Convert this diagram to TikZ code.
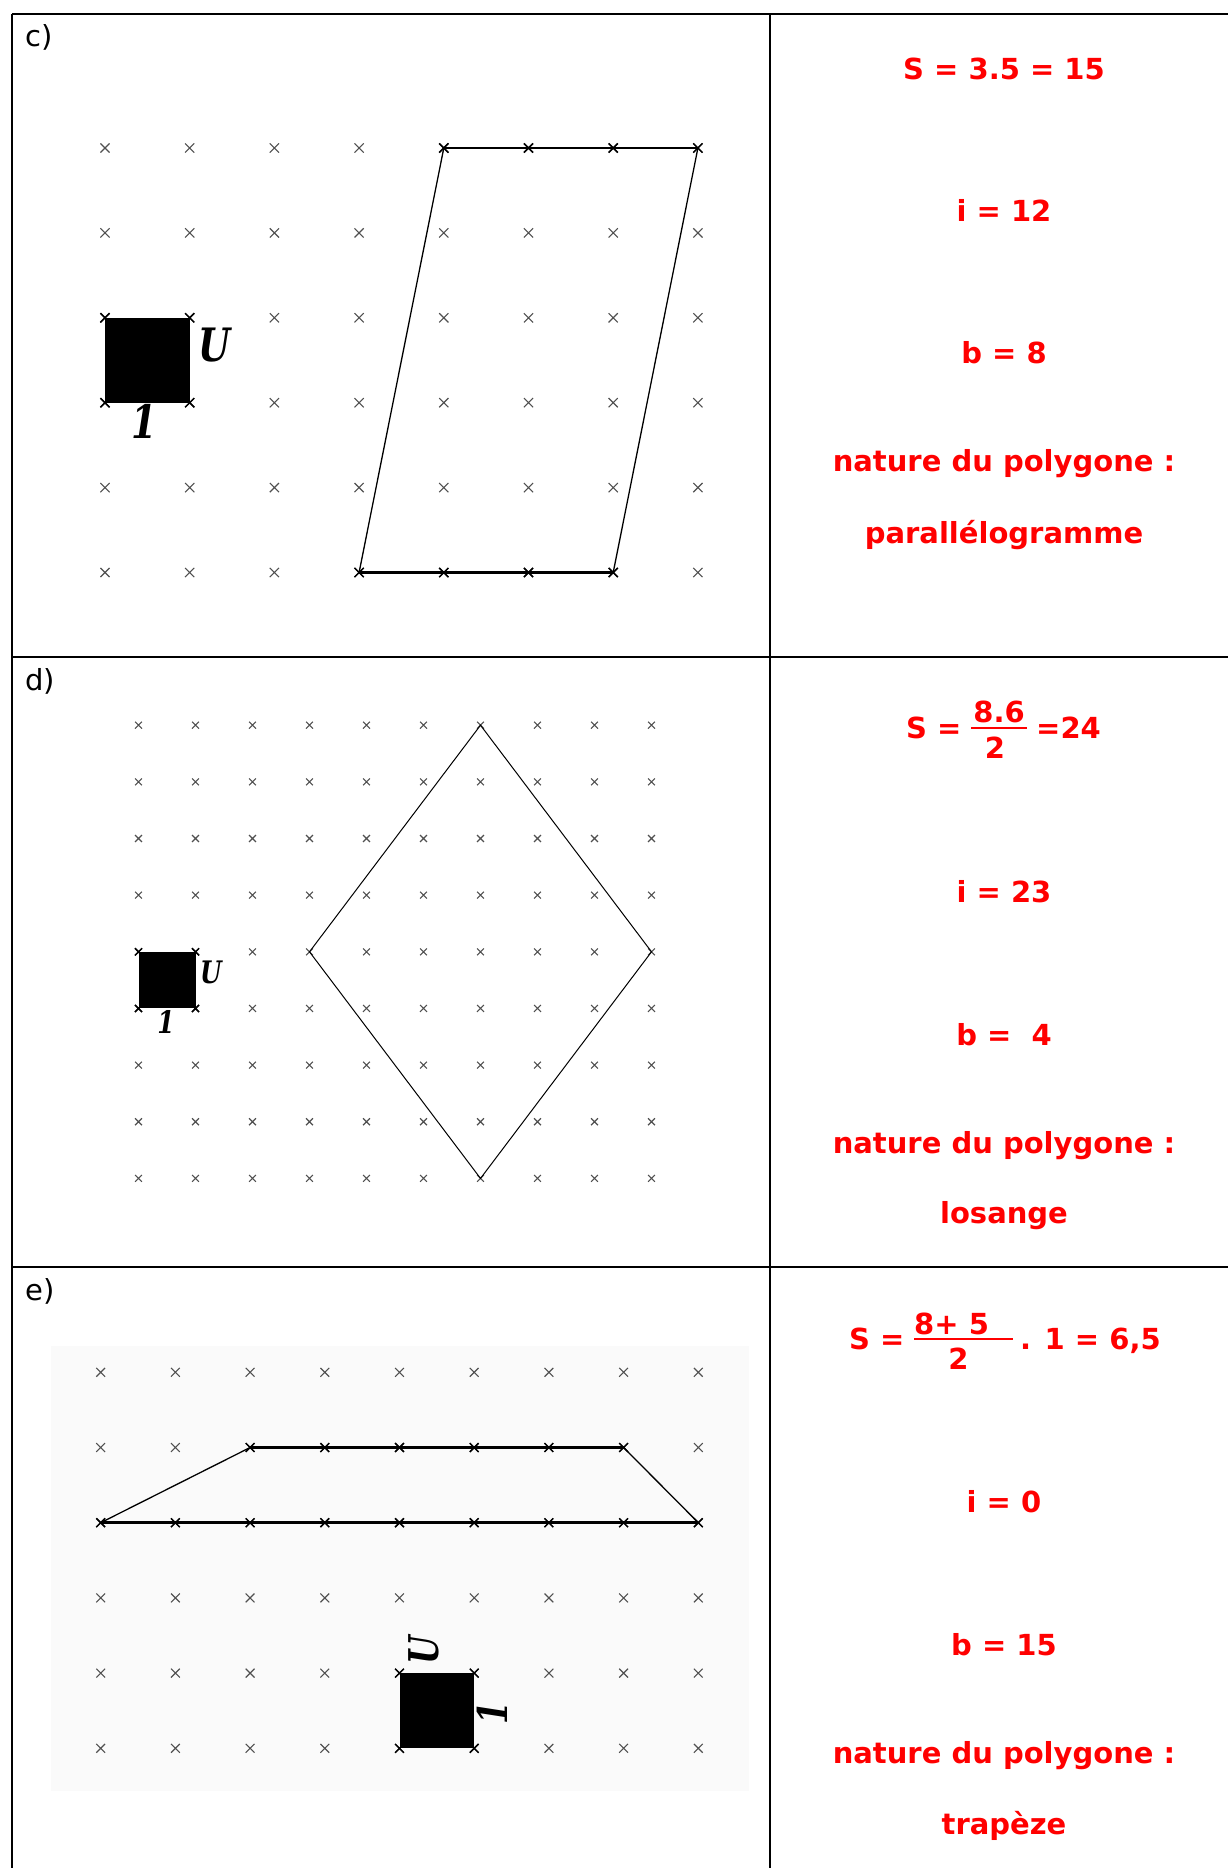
\documentclass[tikz,border=0pt]{standalone}
\usepackage{fontspec}
\usepackage{graphicx}
\newfontfamily\vsans{DejaVu Sans}
\newfontfamily\userif{DejaVu Serif}
\definecolor{ansred}{RGB}{255,0,0}
\definecolor{xgray}{RGB}{80,80,80}
\definecolor{bgpanel}{RGB}{250,250,250}
\tikzset{
  xm/.style={draw=xgray, line width=1.1pt},
  xmk/.style={draw=black, line width=1.5pt},
  tbl/.style={draw=black, line width=2pt},
  thickedge/.style={draw=black, line width=2.6pt},
  thinedge/.style={draw=black, line width=1.3pt},
  rhombedge/.style={draw=black, line width=1pt},
  ans/.style={text=ansred, font=\vsans\bfseries\fontsize{29}{34}\selectfont, inner sep=0pt, anchor=base},
  answ/.style={ans, anchor=base west},
  fracbar/.style={draw=ansred, line width=2.2pt},
  plbl/.style={font=\vsans\fontsize{29}{34}\selectfont, inner sep=0pt, anchor=base west},
  ulbl/.style={font=\userif\bfseries\itshape\fontsize{#1}{#1}\selectfont, inner sep=0pt},
  usq/.style={fill=black}
}
\newcommand\gx[3]{\draw[xm] (#1,#2) ++(-#3,-#3) -- ++(2*#3,2*#3) ++(0,-2*#3) -- ++(-2*#3,2*#3);}
\newcommand\gk[3]{\draw[xmk] (#1,#2) ++(-#3,-#3) -- ++(2*#3,2*#3) ++(0,-2*#3) -- ++(-2*#3,2*#3);}
\begin{document}
\begin{tikzpicture}[x=1pt,y=-1pt]
\path[use as bounding box] (0,0) rectangle (1228,1868);
\clip (0,0) rectangle (1228,1868);
\fill[white] (0,0) rectangle (1228,1868);

% ---------------- table ----------------
\draw[tbl] (12,14) -- (1240,14);
\draw[tbl] (12,657) -- (1240,657);
\draw[tbl] (12,1267) -- (1240,1267);
\draw[tbl] (12,14) -- (12,1880);
\draw[tbl] (770,14) -- (770,1880);

\node[plbl] (lc) at (25,47) {c)};
\node[plbl] (ld) at (25,690) {d)};
\node[plbl] (le) at (25,1300) {e)};

% ---------------- panel c ----------------
\foreach \i in {0,...,7}{\foreach \j in {0,...,5}{\gx{105+\i*84.7}{148+\j*84.9}{4.6}}}
\coordinate (cA) at (105+4*84.7,148);
\coordinate (cB) at (105+7*84.7,148);
\coordinate (cC) at (105+6*84.7,148+5*84.9);
\coordinate (cD) at (105+3*84.7,148+5*84.9);
\draw[thickedge] (cA) -- (cB);
\draw[thickedge] (cD) -- (cC);
\draw[thinedge] (cB) -- (cC);
\draw[thinedge] (cD) -- (cA);
\foreach \i in {4,...,7}{\gk{105+\i*84.7}{148}{4.6}}
\foreach \i in {3,...,6}{\gk{105+\i*84.7}{148+5*84.9}{4.6}}
\fill[usq] (105,148+2*84.9) rectangle (105+84.7,148+3*84.9);
\foreach \i in {0,1}{\foreach \j in {2,3}{\gk{105+\i*84.7}{148+\j*84.9}{4.6}}}
\node[ulbl=46] (cU) at (215,345) {\scalebox{0.8}[1]{U}};
\node[ulbl=46] (c1) at (144,421) {\scalebox{0.8}[1]{1}};

\node[ans] (cS) at (1004,79) {S = 3.5 = 15};
\node[ans] (ci) at (1004,221) {i = 12};
\node[ans] (cb) at (1004,363) {b = 8};
\node[ans] (cn) at (1004,471) {nature du polygone :};
\node[ans] (cp) at (1004,543) {parallélogramme};

% ---------------- panel d ----------------
\foreach \i in {0,...,9}{\foreach \j in {0,...,8}{\gx{138.5+\i*57}{725.2+\j*56.65}{3.4}}}
\coordinate (dT) at (138.5+6*57,725.2);
\coordinate (dR) at (138.5+9*57,725.2+4*56.65);
\coordinate (dB) at (138.5+6*57,725.2+8*56.65);
\coordinate (dL) at (138.5+3*57,725.2+4*56.65);
\draw[rhombedge] (dT) -- (dR) -- (dB) -- (dL) -- cycle;
\fill[usq] (138.5,725.2+4*56.65) rectangle (138.5+57,725.2+5*56.65);
\foreach \i in {0,1}{\foreach \j in {4,5}{\gk{138.5+\i*57}{725.2+\j*56.65}{3.6}}}
\node[ulbl=31] (dU) at (211,972) {\scalebox{0.8}[1]{U}};
\node[ulbl=31] (d1) at (166,1022) {\scalebox{0.8}[1]{1}};

\node[answ] (dS) at (906,738) {S =};
\node[ans] (dnum) at (999,722) {8.6};
\draw[fracbar] (971,728) -- (1027,728);
\node[ans] (dden) at (995,758) {2};
\node[answ] (d24) at (1036,738) {=24};
\node[ans] (di) at (1004,902) {i = 23};
\node[ans] (db) at (1004,1045) {b = \ 4};
\node[ans] (dn) at (1004,1153) {nature du polygone :};
\node[ans] (dl) at (1004,1223) {losange};

% ---------------- panel e ----------------
\fill[bgpanel] (51,1346) rectangle (749,1791);
\foreach \i in {0,...,8}{\foreach \j in {0,...,5}{\gx{100.7+\i*74.7}{1372.3+\j*75.2}{4.4}}}
\coordinate (eA) at (100.7,1372.3+2*75.2);
\coordinate (eB) at (100.7+8*74.7,1372.3+2*75.2);
\coordinate (eC) at (100.7+7*74.7,1372.3+75.2);
\coordinate (eD) at (100.7+2*74.7,1372.3+75.2);
\draw[thickedge] (eA) -- (eB);
\draw[thickedge] (eD) -- (eC);
\draw[thinedge] (eB) -- (eC);
\draw[thinedge] (eD) -- (eA);
\foreach \i in {0,...,8}{\gk{100.7+\i*74.7}{1372.3+2*75.2}{4.4}}
\foreach \i in {2,...,7}{\gk{100.7+\i*74.7}{1372.3+75.2}{4.4}}
\fill[usq] (100.7+4*74.7,1372.3+4*75.2) rectangle (100.7+5*74.7,1372.3+5*75.2);
\foreach \i in {4,5}{\foreach \j in {4,5}{\gk{100.7+\i*74.7}{1372.3+\j*75.2}{4.4}}}
\node[ulbl=41, rotate=90] (eU) at (424,1650) {\scalebox{0.8}[1]{U}};
\node[ulbl=41, rotate=90] (e1) at (492,1713) {\scalebox{0.8}[1]{1}};

\node[answ] (eS) at (849,1349) {S =};
\node[answ] (enum) at (914,1334) {8+ 5};
\draw[fracbar] (914,1339) -- (1013,1339);
\node[ans] (eden) at (958.5,1369) {2};
\node[answ] (erest) at (1020,1349) {. 1 = 6,5};
\node[ans] (ei) at (1004,1512) {i = 0};
\node[ans] (eb) at (1004,1655) {b = 15};
\node[ans] (en) at (1004,1763) {nature du polygone :};
\node[ans] (et) at (1004,1834) {trapèze};
\end{tikzpicture}
\end{document}
